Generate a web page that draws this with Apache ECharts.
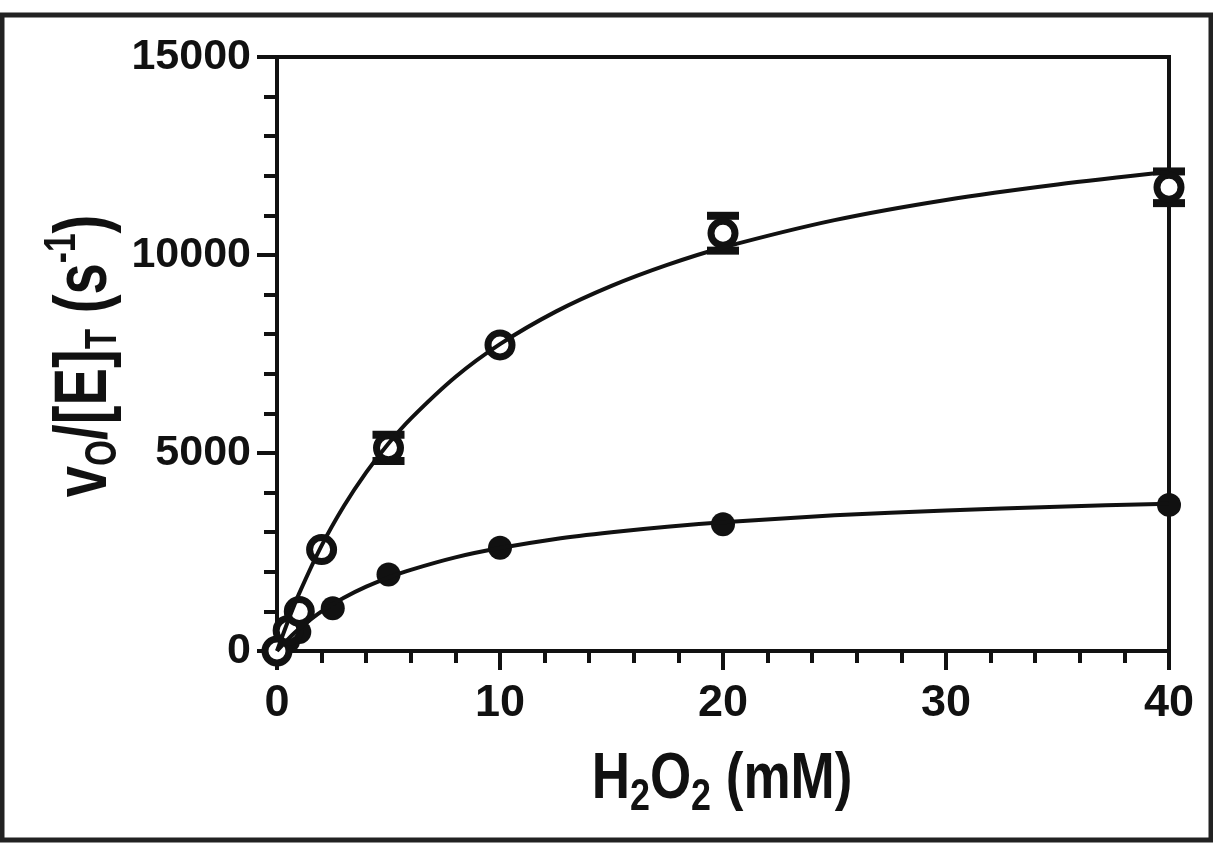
<!DOCTYPE html>
<html>
<head>
<meta charset="utf-8">
<style>
  html, body { margin: 0; padding: 0; background: #fff; }
  #chart { width: 1213px; height: 845px; }
</style>
<script src="https://cdn.jsdelivr.net/npm/echarts@6/dist/echarts.min.js"></script>
</head>
<body>
<div id="chart"></div>
<script>
// axis ticks
var xTicks = [0, 10, 20, 30, 40];
var yTicks = [0, 5000, 10000, 15000];

// open circles (measured, with SD where the bar shows)
var openX = [0, 0.5, 1, 2, 5, 10, 20, 40];
var openY = [0, 520, 1000, 2560, 5130, 7730, 10550, 11710];
var openErr = [0, 0, 0, 0, 330, 0, 440, 400];

// filled circles
var fillX = [0, 0.5, 1, 2.5, 5, 10, 20, 40];
var fillY = [0, 250, 480, 1080, 1930, 2610, 3200, 3690];

// fitted curves
var fitX = [0, 0.5, 1, 2, 3, 4, 5, 6, 8, 10, 12.5, 15, 17.5, 20, 25, 30, 35, 40];
var fitOpen = [0, 765, 1460, 2660, 3660, 4510, 5240, 5870, 6920, 7750, 8570, 9220, 9750, 10190, 10880, 11390, 11780, 12100];
var fitFill = [0, 300, 565, 1000, 1345, 1625, 1855, 2050, 2365, 2600, 2830, 3000, 3140, 3250, 3425, 3550, 3645, 3720];

var ink = '#111';
var font = '"Liberation Sans", Arial, sans-serif';

function pairs(xs, ys) {
    return xs.map(function (x, i) { return [x, ys[i]]; });
}

var errData = [];
openX.forEach(function (x, i) {
    if (openErr[i] > 0) errData.push([x, openY[i], openErr[i]]);
});

var chart = echarts.init(document.getElementById('chart'));

chart.setOption({
    animation: false,
    grid: {
        left: 277, right: 44, top: 57, bottom: 194,
        show: true, borderColor: ink, borderWidth: 4
    },
    xAxis: {
        type: 'value',
        min: xTicks[0], max: xTicks[xTicks.length - 1], interval: xTicks[1] - xTicks[0],
        axisLine: { onZero: false, lineStyle: { color: ink, width: 4 } },
        axisTick: { length: 19, lineStyle: { color: ink, width: 4 } },
        minorTick: { show: true, splitNumber: 5, length: 12, lineStyle: { color: ink, width: 4 } },
        splitLine: { show: false },
        axisLabel: { margin: 30, color: ink, fontSize: 45, fontWeight: 'bold', fontFamily: font }
    },
    yAxis: {
        type: 'value',
        min: yTicks[0], max: yTicks[yTicks.length - 1], interval: yTicks[1] - yTicks[0],
        axisLine: { onZero: false, lineStyle: { color: ink, width: 4 } },
        axisTick: { length: 20, lineStyle: { color: ink, width: 4 } },
        minorTick: { show: true, splitNumber: 5, length: 13, lineStyle: { color: ink, width: 4 } },
        splitLine: { show: false },
        axisLabel: {
            margin: 26, color: ink, fontSize: 43, fontWeight: 'bold', fontFamily: font,
            formatter: function (v) { return String(v); }
        }
    },
    graphic: [
        {
            type: 'rect', silent: true,
            shape: { x: 2, y: 15, width: 1209, height: 825 },
            style: { fill: 'none', stroke: '#222', lineWidth: 5 }
        },
        {
            type: 'text', silent: true,
            x: 722, y: 780, scaleX: 0.815,
            style: {
                text: '{m|H}{s|2}{m|O}{s|2}{m| (mM)}',
                align: 'center', verticalAlign: 'middle',
                fill: ink,
                rich: {
                    m: { fontSize: 65, fontWeight: 'bold', fontFamily: font, fill: ink },
                    s: { fontSize: 44, fontWeight: 'bold', fontFamily: font, fill: ink, padding: [36, 0, 0, 0] }
                }
            }
        },
        {
            type: 'text', silent: true,
            x: 86, y: 356, rotation: Math.PI / 2, scaleX: 0.76,
            style: {
                text: '{m|v}{s|O}{m|/[E]}{s|T}{m| (s}{p|-1}{m|)}',
                align: 'center', verticalAlign: 'middle',
                fill: ink,
                rich: {
                    m: { fontSize: 74, fontWeight: 'bold', fontFamily: font, fill: ink },
                    s: { fontSize: 44, fontWeight: 'bold', fontFamily: font, fill: ink, padding: [36, 0, 0, 0] },
                    p: { fontSize: 44, fontWeight: 'bold', fontFamily: font, fill: ink, padding: [0, 0, 46, 0] }
                }
            }
        }
    ],
    series: [
        {
            type: 'line', data: pairs(fitX, fitOpen), smooth: 0.3, symbol: 'none', clip: false,
            lineStyle: { color: ink, width: 4 }
        },
        {
            type: 'line', data: pairs(fitX, fitFill), smooth: 0.3, symbol: 'none', clip: false,
            lineStyle: { color: ink, width: 4 }
        },
        {
            type: 'custom', data: errData, clip: false,
            renderItem: function (params, api) {
                var x = api.value(0), y = api.value(1), e = api.value(2);
                var hi = api.coord([x, y + e]);
                var lo = api.coord([x, y - e]);
                var hw = 16;
                var st = { stroke: ink, lineWidth: 4 };
                var cap = { stroke: ink, lineWidth: 8 };
                return {
                    type: 'group',
                    children: [
                        { type: 'line', shape: { x1: hi[0], y1: hi[1], x2: lo[0], y2: lo[1] }, style: st },
                        { type: 'line', shape: { x1: hi[0] - hw, y1: hi[1], x2: hi[0] + hw, y2: hi[1] }, style: cap },
                        { type: 'line', shape: { x1: lo[0] - hw, y1: lo[1], x2: lo[0] + hw, y2: lo[1] }, style: cap }
                    ]
                };
            }
        },
        {
            type: 'scatter', data: pairs(fillX, fillY), symbol: 'circle', symbolSize: 24, clip: false,
            itemStyle: { color: ink, opacity: 1 }
        },
        {
            type: 'scatter', data: pairs(openX, openY), symbol: 'circle', symbolSize: 24, clip: false,
            itemStyle: { color: '#fff', borderColor: ink, borderWidth: 7, opacity: 1 }
        }
    ]
});
</script>
</body>
</html>
